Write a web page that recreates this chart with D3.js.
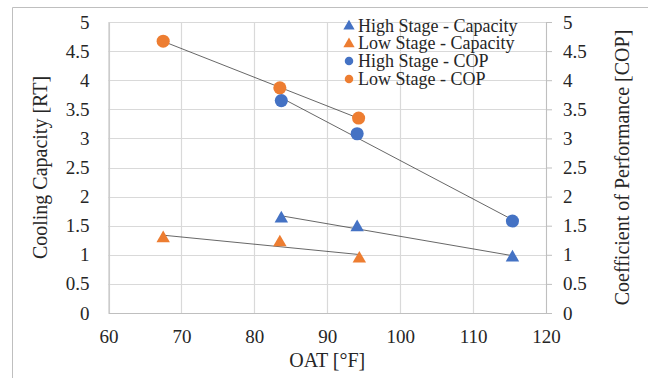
<!DOCTYPE html>
<html>
<head>
<meta charset="utf-8">
<script src="https://cdn.jsdelivr.net/npm/d3@7"></script>
<style>
  body { margin: 0; background: #fff; }
  svg text { font-family: "Liberation Serif", "Times New Roman", serif !important; fill: #262626; }
</style>
</head>
<body>
<svg id="chart" width="648" height="378"></svg>
<script>
// values
const highCapOat = [83.7, 94.1, 115.4];
const highCap = [1.64, 1.49, 0.97];
const lowCapOat = [67.5, 83.5, 94.4];
const lowCap = [1.3, 1.23, 0.95];
const highCopOat = [83.7, 94.1, 115.4];
const highCop = [3.65, 3.08, 1.58];
const lowCopOat = [67.5, 83.5, 94.3];
const lowCop = [4.67, 3.87, 3.35];

const xTicks = [60, 70, 80, 90, 100, 110, 120];
const yTicks = [0, 0.5, 1, 1.5, 2, 2.5, 3, 3.5, 4, 4.5, 5];

const blue = '#4472C4', orange = '#ED7D31';

const series = [
  { name: 'High Stage - Capacity', xs: highCapOat, ys: highCap, color: blue, shape: 'tri', axis: 'left' },
  { name: 'Low Stage - Capacity', xs: lowCapOat, ys: lowCap, color: orange, shape: 'tri', axis: 'left' },
  { name: 'High Stage - COP', xs: highCopOat, ys: highCop, color: blue, shape: 'circ', axis: 'right' },
  { name: 'Low Stage - COP', xs: lowCopOat, ys: lowCop, color: orange, shape: 'circ', axis: 'right' },
];

const svg = d3.select('#chart');
const margin = { top: 22, right: 102, bottom: 65, left: 108.5 };
const W = 648, H = 378;

const x = d3.scaleLinear().domain([60, 120]).range([margin.left, W - margin.right]);
const yL = d3.scaleLinear().domain([0, 5]).range([H - margin.bottom, margin.top]);
const yR = d3.scaleLinear().domain([0, 5]).range([H - margin.bottom, margin.top]);

// outer frame (only left and top edges fall inside the picture)
svg.append('path')
  .attr('d', `M12.5,${H} L12.5,7.5 L${W},7.5`)
  .attr('fill', 'none').attr('stroke', '#bfbfbf').attr('stroke-width', 1);

// grid
const grid = svg.append('g');
grid.selectAll('.gy').data(yTicks).join('line')
  .attr('x1', x(60)).attr('x2', x(120))
  .attr('y1', d => Math.round(yL(d)) + 0.5).attr('y2', d => Math.round(yL(d)) + 0.5)
  .attr('stroke', '#d9d9d9').attr('stroke-width', 1.2);
grid.selectAll('.gx').data(xTicks).join('line')
  .attr('x1', d => Math.round(x(d)) + 0.5).attr('x2', d => Math.round(x(d)) + 0.5)
  .attr('y1', yL(0)).attr('y2', yL(5))
  .attr('stroke', '#d9d9d9').attr('stroke-width', 1.2);

// axes
const axisFont = g => g.selectAll('text').attr('font-size', 19);

svg.append('g')
  .attr('transform', `translate(0,${yL(0)})`)
  .call(d3.axisBottom(x).tickValues(xTicks).tickSize(0).tickPadding(17).tickFormat(d3.format('d')))
  .call(g => g.select('.domain').attr('stroke', '#bfbfbf'))
  .call(axisFont);

svg.append('g')
  .attr('transform', `translate(${x(60)},0)`)
  .call(d3.axisLeft(yL).tickValues(yTicks).tickSize(0).tickPadding(19).tickFormat(d => d))
  .call(g => g.select('.domain').attr('stroke', '#bfbfbf'))
  .call(axisFont);

svg.append('g')
  .attr('transform', `translate(${x(120)},0)`)
  .call(d3.axisRight(yR).tickValues(yTicks).tickSize(6).tickSizeOuter(0).tickPadding(11).tickFormat(d => d))
  .call(g => g.selectAll('.domain, line').attr('stroke', '#bfbfbf'))
  .call(axisFont);

// axis titles
svg.append('text')
  .attr('x', (x(60) + x(120)) / 2).attr('y', 366.5)
  .attr('text-anchor', 'middle').attr('font-size', 20)
  .text('OAT [°F]');
svg.append('text')
  .attr('transform', `translate(47,${(yL(0) + yL(5)) / 2}) rotate(-90)`)
  .attr('text-anchor', 'middle').attr('font-size', 20)
  .text('Cooling Capacity [RT]');
svg.append('text')
  .attr('transform', `translate(629,${(yL(0) + yL(5)) / 2}) rotate(-90)`)
  .attr('text-anchor', 'middle').attr('font-size', 20)
  .text('Coefficient of Performance [COP]');

// linear trendlines (least squares over each series)
function fit(xs, ys) {
  const mx = d3.mean(xs), my = d3.mean(ys);
  const b = d3.sum(xs, (v, i) => (v - mx) * (ys[i] - my)) / d3.sum(xs, v => (v - mx) ** 2);
  return v => my + b * (v - mx);
}

const plot = svg.append('g');
series.forEach(s => {
  const yS = s.axis === 'left' ? yL : yR;
  const f = fit(s.xs, s.ys);
  const [x0, x1] = d3.extent(s.xs);
  plot.append('line')
    .attr('x1', x(x0)).attr('y1', yS(f(x0)))
    .attr('x2', x(x1)).attr('y2', yS(f(x1)))
    .attr('stroke', '#404040').attr('stroke-width', 0.8);
});

const triangle = d3.symbol().type(d3.symbolTriangle).size(78);
const circle = d3.symbol().type(d3.symbolCircle).size(135);

series.forEach(s => {
  const yS = s.axis === 'left' ? yL : yR;
  plot.selectAll(null).data(s.xs.map((v, i) => [v, s.ys[i]])).join('path')
    .attr('d', s.shape === 'tri' ? triangle : circle)
    .attr('transform', d => `translate(${x(d[0])},${yS(d[1]) + (s.shape === 'tri' ? 1 : 0)})`)
    .attr('fill', s.color);
});

// legend
const legend = svg.append('g').attr('transform', 'translate(349,25.5)');
const legTri = d3.symbol().type(d3.symbolTriangle).size(55);
const legCirc = d3.symbol().type(d3.symbolCircle).size(57);
series.forEach((s, i) => {
  const row = legend.append('g').attr('transform', `translate(0,${i * 17.8})`);
  row.append('path')
    .attr('d', s.shape === 'tri' ? legTri : legCirc)
    .attr('transform', s.shape === 'tri' ? 'translate(0,0.8)' : null)
    .attr('fill', s.color);
  row.append('text')
    .attr('x', 9).attr('y', 0).attr('dy', '0.34em')
    .attr('font-size', 18)
    .text(s.name);
});
</script>
</body>
</html>
